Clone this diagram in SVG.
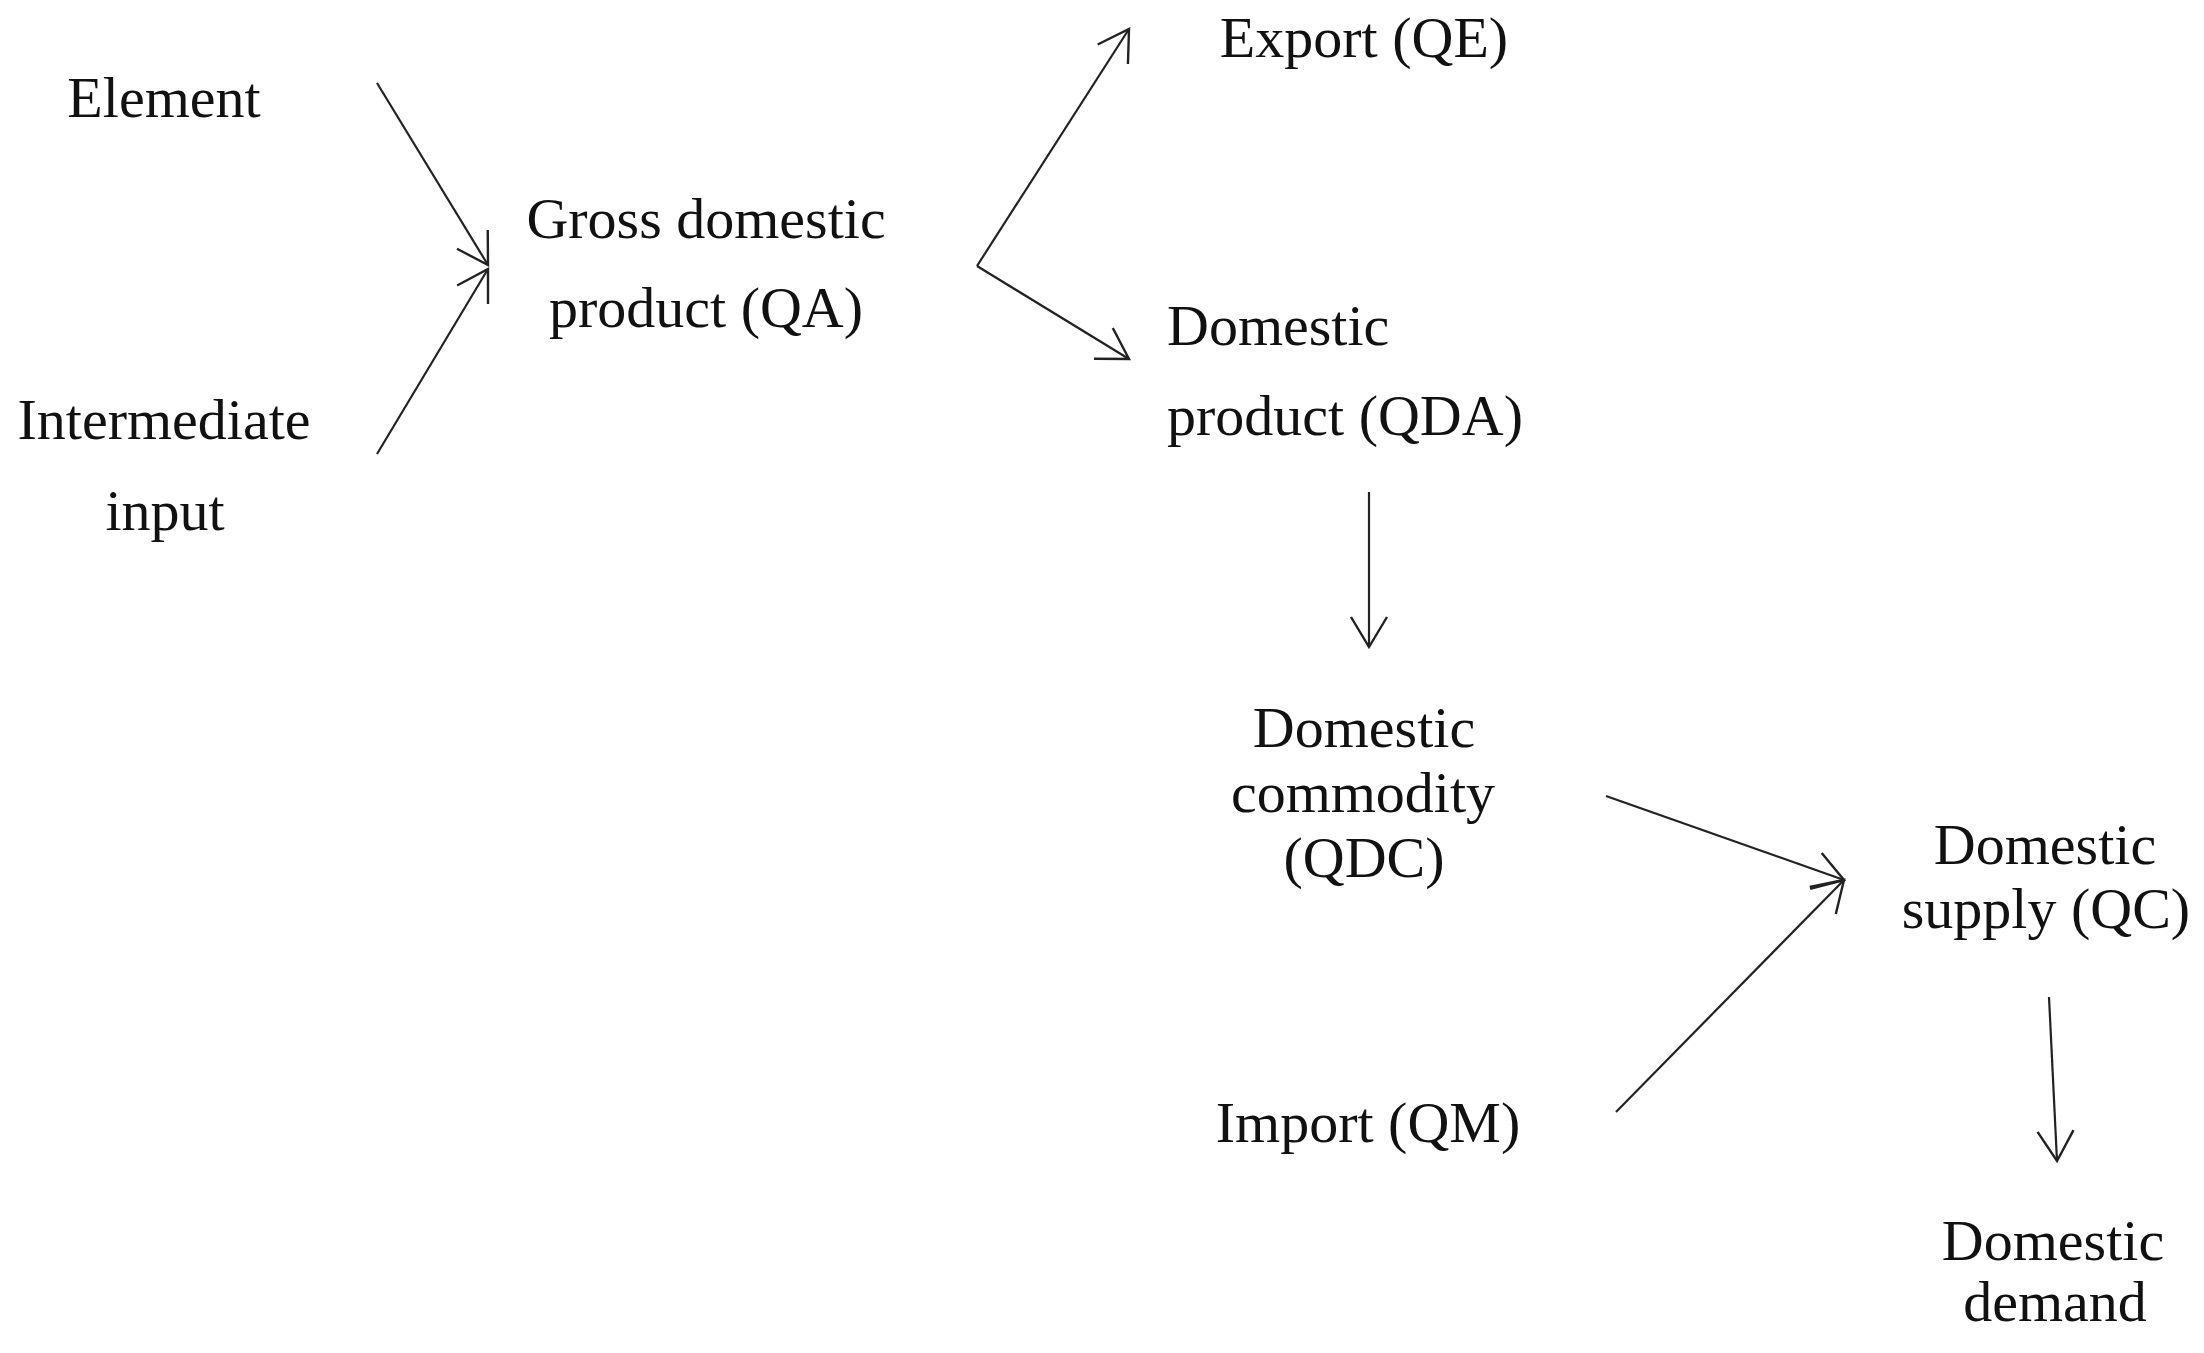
<svg xmlns="http://www.w3.org/2000/svg" width="2204" height="1353" viewBox="0 0 2204 1353">
<style>
text{font-family:"Liberation Serif","Times New Roman",serif;font-size:58px;fill:#111}
.c{text-anchor:middle}
.l{text-anchor:start}
.e{fill:none;stroke:#222;stroke-width:2.2;marker-end:url(#arr)}
</style>
<defs>
<marker id="arr" markerUnits="userSpaceOnUse" markerWidth="44" markerHeight="44" viewBox="-38 -22 44 44" refX="0" refY="0" orient="auto" overflow="visible">
<path d="M-30,-18 L0,0 L-30,18" fill="none" stroke="#222" stroke-width="2.4" stroke-linejoin="miter"/>
</marker>
</defs>
<rect width="2204" height="1353" fill="#fff"/>
<g id="connectors">
<path class="e" d="M377,83 L488,265"/>
<path class="e" d="M377,454 L488,269"/>
<path class="e" d="M977,266 L1129,29"/>
<path class="e" d="M977,266 L1129,359"/>
<path class="e" d="M1369,492 L1369,647"/>
<path class="e" d="M1606,796 L1844,880"/>
<path class="e" d="M1616,1112 L1844,880"/>
<path class="e" d="M2049,997 L2057,1161"/>
</g>
<g id="element"><text class="c" x="164" y="117">Element</text></g>
<g id="intermediate"><text class="c" x="164" y="439">Intermediate</text><text class="c" x="165" y="530">input</text></g>
<g id="qa"><text class="c" x="706" y="238">Gross domestic</text><text class="c" x="706" y="327">product (QA)</text></g>
<g id="qe"><text class="c" x="1364" y="57">Export (QE)</text></g>
<g id="qda"><text class="l" x="1167" y="345">Domestic</text><text class="l" x="1167" y="435">product (QDA)</text></g>
<g id="qdc"><text class="c" x="1364" y="747">Domestic</text><text class="c" x="1363" y="812">commodity</text><text class="c" x="1364" y="877">(QDC)</text></g>
<g id="qc"><text class="c" x="2045" y="864">Domestic</text><text class="c" x="2046" y="928">supply (QC)</text></g>
<g id="qm"><text class="c" x="1368" y="1142">Import (QM)</text></g>
<g id="demand"><text class="c" x="2053" y="1260">Domestic</text><text class="c" x="2055" y="1321">demand</text></g>
</svg>
